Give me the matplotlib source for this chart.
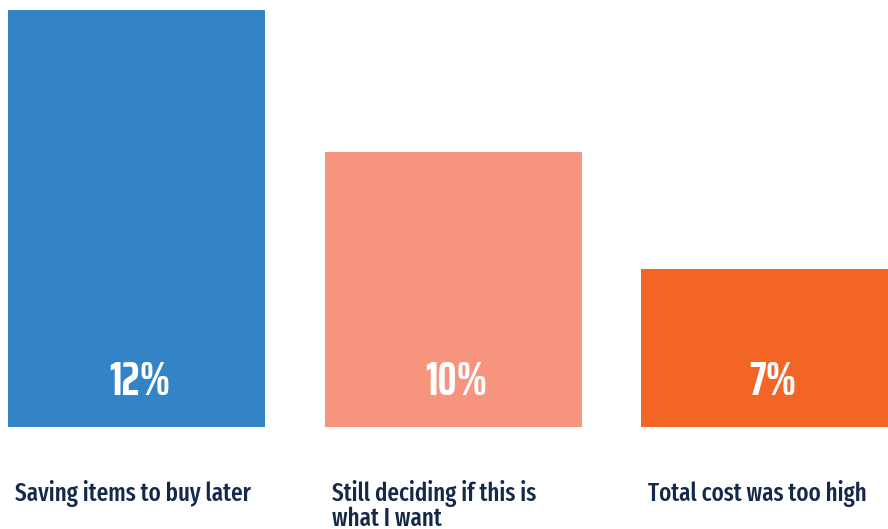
import numpy as np
import matplotlib
matplotlib.use("Agg")
import matplotlib.pyplot as plt

categories = ["Saving items to buy later", "Still deciding if this is\nwhat I want", "Total cost was too high"]
value_labels = ["12%", "10%", "7%"]
# bar heights as drawn in the picture (not proportional to the printed values)
bar_heights = [12.0, 7.91, 4.55]
colors = ["#3284C6", "#F6947E", "#F26524"]

W, H = 888, 529
fig = plt.figure(figsize=(W / 100, H / 100), dpi=100)
ax = fig.add_axes([8 / W, (H - 427) / H, 880 / W, 417 / H])

pitch_px = 316.5
width = 257 / pitch_px
x = np.arange(len(categories))
ax.bar(x, bar_heights, width=width, align="edge", color=colors, linewidth=0)
ax.set_xlim(0, 880 / pitch_px)
ax.set_ylim(0, 12)
ax.axis("off")

for xi, lab in zip(x, value_labels):
    ax.text(xi + width / 2 + 3 / pitch_px, 1.3, lab, ha="center", va="center", color="white",
            fontsize=34, fontweight="bold",
            family=["Saira ExtraCondensed", "Fira Sans Extra Condensed", "DejaVu Sans"])

label_y = -(480 - 427) / 417 * 12
for xi, cat in zip(x, categories):
    ax.text(xi + 7 / pitch_px, label_y, cat, ha="left", va="top", color="#14294A",
            fontsize=18, fontweight="medium", linespacing=0.98, clip_on=False,
            family=["Fira Sans Extra Condensed", "Fira Sans Condensed", "DejaVu Sans"])

fig.savefig("out.png", dpi=100)
